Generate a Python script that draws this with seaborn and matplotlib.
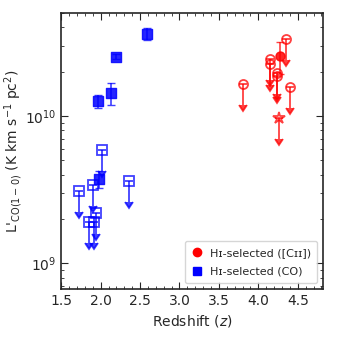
import numpy as np
import seaborn as sns
from matplotlib import pyplot as plt
from matplotlib.lines import Line2D
from matplotlib.ticker import MultipleLocator

# CO detections (HI-selected, CO)
co_z = [2.59, 2.20, 2.13, 1.97, 1.98]
co_L = [3.6e10, 2.53e10, 1.43e10, 1.26e10, 3.75e9]
co_err = [0.35e10, 0.1e10, 0.24e10, 0.13e10, 0.5e9]

# CO upper limits
co_lim_z = [2.02, 1.73, 1.90, 1.94, 1.85, 1.92, 2.36]
co_lim_L = [5.9e9, 3.1e9, 3.4e9, 2.2e9, 1.9e9, 1.9e9, 3.6e9]

# [CII] based detection
cii_z = [4.27]
cii_L = [2.55e10]
cii_err = [0.63e10]

# [CII] based upper limits
cii_lim_z = [3.80, 4.145, 4.145, 4.24, 4.24, 4.357, 4.40]
cii_lim_L = [1.65e10, 2.44e10, 2.25e10, 1.95e10, 1.87e10, 3.33e10, 1.57e10]

# star-marked upper limit
star_z = [4.26]
star_L = [9.7e9]

sns.set_style('ticks')
plt.rcParams['font.family'] = ['DejaVu Sans']
plt.rcParams['font.size'] = 10

fig = plt.figure(figsize = (3.4, 3.4), dpi = 100)
ax = fig.add_axes([0.18, 0.15, 0.77, 0.812])

a = 0.75
# upper limits with down arrows
ax.errorbar(co_lim_z, co_lim_L, yerr = 0.28 * np.array(co_lim_L), uplims = True,
            fmt = 's', mfc = 'none', mec = 'b', color = 'b', ms = 6.5, mew = 1.3,
            capsize = 3, elinewidth = 1.3, alpha = a)
ax.errorbar(cii_lim_z, cii_lim_L, yerr = 0.28 * np.array(cii_lim_L), uplims = True,
            fmt = 'o', mfc = 'none', mec = 'r', color = 'r', ms = 6.5, mew = 1.3,
            capsize = 3, elinewidth = 1.3, alpha = a)
ax.errorbar(star_z, star_L, yerr = 0.28 * np.array(star_L), uplims = True,
            fmt = '*', mfc = 'none', mec = 'r', color = 'r', ms = 9, mew = 1.3,
            capsize = 3, elinewidth = 1.3, alpha = a)

# detections
ax.errorbar(co_z, co_L, yerr = co_err, fmt = 'none', ecolor = 'b',
            capsize = 3, elinewidth = 1.2, alpha = a)
ax.errorbar(cii_z, cii_L, yerr = cii_err, fmt = 'none', ecolor = 'r',
            capsize = 3, elinewidth = 1.2, alpha = a)
sns.scatterplot(x = co_z, y = co_L, marker = 's', color = 'b', s = 42,
                edgecolor = 'b', linewidth = 1, alpha = 0.85, ax = ax)
sns.scatterplot(x = cii_z, y = cii_L, marker = 'o', color = 'r', s = 42,
                edgecolor = 'r', linewidth = 1, alpha = 0.85, ax = ax)

ax.set_yscale('log')
ax.set_xlim(1.5, 4.82)
ax.set_ylim(6.7e8, 5e10)
ax.xaxis.set_major_locator(MultipleLocator(0.5))
ax.xaxis.set_minor_locator(MultipleLocator(0.1))
ax.tick_params(which = 'both', direction = 'in', top = True, right = True, labelsize = 10)
ax.tick_params(which = 'major', length = 5)
ax.tick_params(which = 'minor', length = 2.5)
for s in ax.spines.values():
    s.set_linewidth(1.2)

ax.set_xlabel('Redshift ($z$)', fontsize = 10)
ax.set_ylabel(r"L$'_{\mathrm{CO(1-0)}}$ (K km s$^{-1}$ pc$^{2}$)", fontsize = 10, labelpad = 0)

handles = [
    Line2D([], [], marker = 'o', color = 'r', ls = '', ms = 6),
    Line2D([], [], marker = 's', color = 'b', ls = '', ms = 6),
]
ax.legend(handles, ['H\u026a-selected ([C\u026a\u026a])', 'H\u026a-selected (CO)'],
          loc = 'lower right', fontsize = 8, frameon = True, handlelength = 1,
          handletextpad = 0.6, labelspacing = 0.8, borderpad = 0.6)

plt.savefig('out.png', dpi = 100)
